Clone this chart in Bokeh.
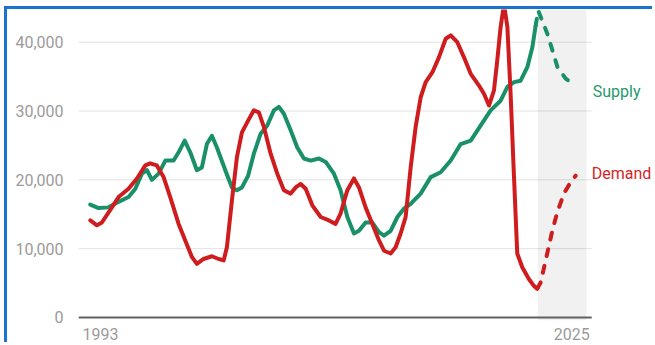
from bokeh.plotting import figure
from bokeh.models import FixedTicker, NumeralTickFormatter, BoxAnnotation, Label, Range1d
from bokeh.embed import file_html
from bokeh.resources import INLINE

# Actual series (year, value)
supply_year = [1992.30, 1992.86, 1993.54, 1994.22, 1994.90, 1995.36, 1995.81, 1996.15, 1996.49,
               1996.94, 1997.40, 1997.96, 1998.30, 1998.71, 1999.09, 1999.54, 1999.88, 2000.22,
               2000.56, 2000.90, 2001.47, 2001.92, 2002.26, 2002.60, 2003.02, 2003.41, 2003.87,
               2004.32, 2004.77, 2005.11, 2005.45, 2005.91, 2006.36, 2006.81, 2007.27, 2007.83,
               2008.29, 2008.85, 2009.30, 2009.76, 2010.21, 2010.55, 2011.00, 2011.46, 2011.91,
               2012.25, 2012.70, 2013.16, 2013.60, 2014.06, 2014.74, 2015.42, 2016.10, 2016.78,
               2017.46, 2018.14, 2018.82, 2019.49, 2020.17, 2020.63, 2021.08, 2021.53, 2021.99,
               2022.33, 2022.55]
supply = [16400, 15900, 16000, 16800, 17500, 18700, 20900, 21400, 20000,
          20900, 22800, 22800, 24000, 25700, 24000, 21400, 21800, 25200,
          26400, 24700, 21400, 18900, 18500, 18900, 20600, 23800, 26700,
          27900, 30100, 30600, 29600, 27200, 24700, 23100, 22800, 23100,
          22600, 20900, 18500, 14600, 12200, 12600, 13800, 13800, 12400,
          11900, 12600, 14600, 15800, 16500, 18000, 20400, 21100, 22800,
          25200, 25700, 27900, 30100, 31500, 33500, 34200, 34400, 36400,
          39300, 42400]

demand_year = [1992.30, 1992.75, 1993.09, 1993.77, 1994.22, 1994.90, 1995.47, 1996.04, 1996.37,
               1996.82, 1997.28, 1997.73, 1998.30, 1998.75, 1999.20, 1999.54, 1999.99, 2000.56,
               2001.02, 2001.36, 2001.58, 2001.92, 2002.26, 2002.60, 2003.02, 2003.41, 2003.75,
               2004.09, 2004.55, 2005.00, 2005.45, 2005.91, 2006.25, 2006.59, 2006.93, 2007.38,
               2007.95, 2008.51, 2008.96, 2009.30, 2009.76, 2010.21, 2010.55, 2011.00, 2011.46,
               2011.91, 2012.25, 2012.70, 2013.04, 2013.38, 2013.72, 2014.06, 2014.40, 2014.74,
               2015.08, 2015.53, 2015.98, 2016.44, 2016.78, 2017.23, 2017.68, 2018.14, 2018.70,
               2019.04, 2019.38, 2019.72, 2019.94, 2020.17, 2020.40, 2020.63, 2020.85, 2021.07,
               2021.30, 2021.64, 2022.09, 2022.43, 2022.66]
demand = [14100, 13400, 13800, 16000, 17500, 18700, 20200, 22100, 22400,
          22100, 20400, 17500, 13600, 11200, 8800, 7800, 8500, 8900,
          8500, 8300, 10200, 17000, 23300, 26900, 28600, 30100, 29800,
          27700, 23800, 20900, 18500, 18000, 18900, 19400, 18700, 16300,
          14600, 14100, 13600, 15100, 18500, 20200, 18900, 16000, 13600,
          11200, 9700, 9300, 10200, 12200, 14600, 21800, 27700, 32000,
          34200, 35600, 37800, 40500, 41000, 40000, 37800, 35400, 33700,
          32500, 30800, 33000, 37300, 42200, 45500, 42200, 32500, 20900,
          9300, 7300, 5600, 4600, 4200]

# Projections, continuing from the last actual point
supply_fc_year = [2022.72, 2023.35, 2023.69, 2024.03, 2024.59, 2025.04]
supply_fc = [44600, 41200, 38800, 36400, 34700, 34000]
demand_fc_year = [2022.89, 2023.23, 2023.68, 2024.02, 2024.47, 2024.93, 2025.27]
demand_fc = [5100, 8300, 12600, 15300, 18000, 19700, 20600]

forecast_period = (2022.7, 2026.0)
x_ticks = [1993, 2025]
x_tick_labels = ["1993", "2025"]
y_ticks = [0, 10000, 20000, 30000, 40000]

GREEN = "#1a9068"
RED = "#cf1d1f"
AXIS_TEXT = "#9b9b9b"
FONT = "Roboto"

# the plotting area runs to x_end; the strip to its right holds the series names
x_start, x_end, x_view_end = 1991.5, 2026.36, 2030.69

p = figure(width=648, height=336,
           x_range=Range1d(x_start, x_view_end), y_range=Range1d(-437, 44750),
           output_backend="svg", toolbar_location=None,
           min_border_left=71, min_border_right=0,
           min_border_top=0, min_border_bottom=25)
p.margin = (6, 0, 0, 4)
p.styles = {"border-left": "3px solid #1a73cc", "border-top": "3px solid #1a73cc"}
p.outline_line_color = None
p.background_fill_color = "white"
p.border_fill_color = "white"

# shaded projection period
p.add_layout(BoxAnnotation(left=forecast_period[0], right=forecast_period[1],
                           fill_color="black", fill_alpha=0.055, line_color=None,
                           level="underlay"))

# horizontal gridlines and baseline, limited to the plotting area
p.grid.visible = False
grid_y = y_ticks[1:]
p.segment(x0=[x_start] * len(grid_y), y0=grid_y, x1=[x_end] * len(grid_y), y1=grid_y,
          line_color="#e2e2e2", line_width=1, level="underlay")
p.segment(x0=[x_start], y0=[0], x1=[x_end], y1=[0], line_color="#616161", line_width=2)

xa = p.xaxis[0]
xa.ticker = FixedTicker(ticks=x_ticks)
xa.major_label_overrides = {t: s for t, s in zip(x_ticks, x_tick_labels)}
xa.axis_line_color = None
xa.major_tick_line_color = None
xa.minor_tick_line_color = None
xa.major_label_text_color = AXIS_TEXT
xa.major_label_text_font = FONT
xa.major_label_text_font_size = "16px"
xa.major_label_standoff = 1

ya = p.yaxis[0]
ya.ticker = FixedTicker(ticks=y_ticks)
ya.formatter = NumeralTickFormatter(format="0,0")
ya.axis_line_color = None
ya.major_tick_line_color = None
ya.minor_tick_line_color = None
ya.major_label_text_color = AXIS_TEXT
ya.major_label_text_font = FONT
ya.major_label_text_font_size = "16px"
ya.major_label_standoff = 9

line_style = dict(line_width=4, line_join="round", line_cap="round")
p.line(supply_year, supply, line_color=GREEN, **line_style)
p.line(demand_year, demand, line_color=RED, **line_style)
p.line([supply_year[-1]] + supply_fc_year, [supply[-1]] + supply_fc,
       line_color=GREEN, line_dash="7 10", **line_style)
p.line([demand_year[-1]] + demand_fc_year, [demand[-1]] + demand_fc,
       line_color=RED, line_dash="7 10", **line_style)

p.add_layout(Label(x=x_end, y=supply_fc[-1], text="Supply", x_offset=1, y_offset=-8,
                   text_align="left", text_baseline="middle", text_color="#1f9a6e",
                   text_font=FONT, text_font_size="16px"))
p.add_layout(Label(x=x_end, y=demand_fc[-1], text="Demand", x_offset=0, y_offset=2,
                   text_align="left", text_baseline="middle", text_color="#d2262a",
                   text_font=FONT, text_font_size="16px"))

open("out.html", "w").write(file_html(p, INLINE))
